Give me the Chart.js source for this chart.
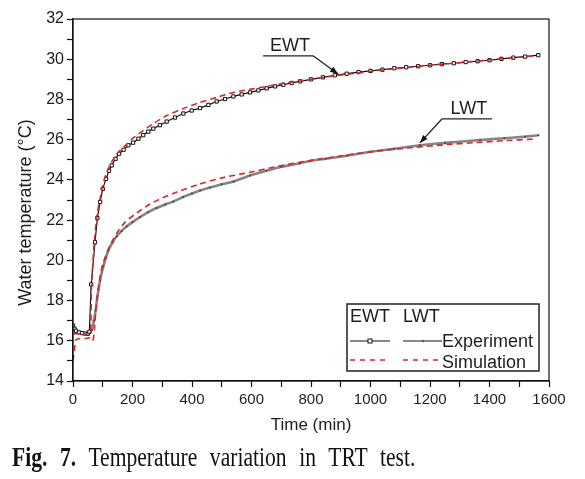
<!DOCTYPE html>
<html><head><meta charset="utf-8">
<script src="https://cdn.jsdelivr.net/npm/chart.js@4.4.1/dist/chart.umd.min.js"></script>
<style>
html,body{margin:0;padding:0;background:#fff;}
#wrap{position:relative;width:585px;height:479px;overflow:hidden;}
#c{position:absolute;left:0;top:0;}
#cap{position:absolute;left:12px;top:444px;font-family:'Liberation Serif','Times New Roman',serif;font-size:27px;line-height:27px;word-spacing:9px;color:#111;white-space:nowrap;transform:scaleX(0.8);transform-origin:0 0;}
</style></head>
<body><div id="wrap"><canvas id="c" width="585" height="479"></canvas><div id="cap"><b>Fig. 7.</b> Temperature variation in TRT test.</div></div>
<script>
// ---- data ----
const ewtExpTime = [0,5,10,20,30,40,50,55,61,74,82,91,100,111,121,130,143,155,170,186,202,220,236,253,270,292,315,343,371,399,427,455,483,511,539,567,595,623,651,679,707,735,763,800,840,880,920,960,1000,1040,1080,1120,1160,1200,1240,1280,1320,1360,1400,1440,1480,1520,1564];
const ewtExpTemp = [16.75,16.6,16.5,16.42,16.38,16.36,16.35,16.45,18.8,20.9,22.1,22.9,23.55,24.05,24.45,24.72,25.05,25.3,25.5,25.72,25.85,26.05,26.22,26.4,26.55,26.72,26.9,27.1,27.3,27.45,27.57,27.73,27.9,28.02,28.15,28.25,28.35,28.45,28.55,28.65,28.73,28.82,28.9,29.0,29.1,29.2,29.28,29.36,29.42,29.48,29.55,29.6,29.65,29.7,29.76,29.8,29.86,29.9,29.95,30.02,30.08,30.13,30.2];

const ewtSimTime = [0,20,40,58,62,70,80,90,100,110,120,130,145,160,175,200,236,270,315,371,427,483,539,595,651,707,763,820,880,950,1030,1100,1200,1300,1400,1480,1560];
const ewtSimTemp = [16.35,16.35,16.35,16.4,18.6,20.6,22.2,23.0,23.7,24.25,24.6,24.9,25.25,25.5,25.7,26.05,26.45,26.8,27.2,27.55,27.85,28.1,28.35,28.5,28.65,28.8,28.92,29.05,29.18,29.3,29.45,29.55,29.7,29.83,29.97,30.07,30.18];

const lwtExpTime = [0,5,10,20,30,40,50,58,63,70,76,82,91,102,110,119,133,147,163,180,200,225,253,281,310,337,370,400,427,460,500,540,595,650,700,763,800,850,920,1000,1080,1166,1250,1368,1450,1520,1564];
const lwtExpTemp = [16.7,16.58,16.5,16.42,16.38,16.36,16.35,16.4,16.55,17.0,17.5,18.2,19.0,19.7,20.1,20.5,20.9,21.2,21.45,21.68,21.9,22.15,22.4,22.6,22.78,22.92,23.15,23.32,23.47,23.62,23.78,23.92,24.22,24.45,24.65,24.83,24.95,25.05,25.2,25.4,25.55,25.72,25.84,25.98,26.07,26.15,26.22];

const lwtSimTime = [0,5,10,20,40,55,60,67,72,80,91,100,113,130,147,175,214,259,300,350,427,500,595,680,763,850,950,1050,1150,1250,1350,1450,1547];
const lwtSimTemp = [15.0,15.6,16.05,16.1,16.1,16.15,16.1,16.0,16.6,18.0,19.2,19.8,20.35,20.9,21.35,21.9,22.35,22.8,23.1,23.4,23.8,24.1,24.38,24.65,24.88,25.08,25.3,25.48,25.62,25.75,25.85,25.95,26.03];

const xTickValues = [0,100,200,300,400,500,600,700,800,900,1000,1100,1200,1300,1400,1500,1600];
const xTickLabels = ['0','','200','','400','','600','','800','','1000','','1200','','1400','','1600'];
const yTickValues = [14,15,16,17,18,19,20,21,22,23,24,25,26,27,28,29,30,31,32];
const yTickLabels = ['14','','16','','18','','20','','22','','24','','26','','28','','30','','32'];

const calloutNames = ['EWT','LWT'];
const calloutTip = [[891,29.27],[1166,25.84]];
const calloutShelf = [[639,807,30.17],[1240,1408,27.03]];

const legendCols = ['EWT','LWT'];
const legendRows = ['Experiment','Simulation'];

// ---- chart ----
const F = '"Liberation Sans", Arial, sans-serif';
const TXT = '#1c1c24';
const pts = (t, v) => t.map((x, i) => ({x: x, y: v[i]}));
const RED = '#d8262a';

const decor = {
  id: 'decor',
  afterDatasetsDraw(chart) {
    const {ctx, chartArea: a, scales: {x, y}} = chart;
    ctx.save();
    ctx.strokeStyle = '#111'; ctx.lineWidth = 1.2;
    ctx.strokeRect(a.left, a.top, a.right - a.left, a.bottom - a.top);
    calloutNames.forEach((name, i) => {
      const [t1, t2, T] = calloutShelf[i];
      const x1 = x.getPixelForValue(t1), x2 = x.getPixelForValue(t2), yy = y.getPixelForValue(T);
      const tx = x.getPixelForValue(calloutTip[i][0]), ty = y.getPixelForValue(calloutTip[i][1]);
      const sx = Math.abs(tx - x1) < Math.abs(tx - x2) ? x1 : x2;
      ctx.strokeStyle = '#222'; ctx.lineWidth = 1.3;
      ctx.beginPath(); ctx.moveTo(x1, yy); ctx.lineTo(x2, yy); ctx.stroke();
      ctx.beginPath(); ctx.moveTo(sx, yy); ctx.lineTo(tx, ty); ctx.stroke();
      const ang = Math.atan2(ty - yy, tx - sx);
      ctx.fillStyle = '#111';
      ctx.beginPath();
      ctx.moveTo(tx, ty);
      ctx.lineTo(tx - 8 * Math.cos(ang) + 3 * Math.sin(ang), ty - 8 * Math.sin(ang) - 3 * Math.cos(ang));
      ctx.lineTo(tx - 8 * Math.cos(ang) - 3 * Math.sin(ang), ty - 8 * Math.sin(ang) + 3 * Math.cos(ang));
      ctx.closePath(); ctx.fill();
      ctx.font = '18px ' + F; ctx.fillStyle = TXT; ctx.textAlign = 'center'; ctx.textBaseline = 'alphabetic';
      ctx.fillText(name, (x1 + x2) / 2 + 2, yy - 5);
    });
    const l = a.right - 202, t = a.bottom - 77, r = a.right - 10, b = a.bottom - 10;
    ctx.fillStyle = '#fff'; ctx.fillRect(l, t, r - l, b - t);
    ctx.strokeStyle = '#222'; ctx.lineWidth = 1.5; ctx.strokeRect(l, t, r - l, b - t);
    ctx.font = '18px ' + F; ctx.fillStyle = TXT; ctx.textAlign = 'left'; ctx.textBaseline = 'alphabetic';
    ctx.fillText(legendCols[0], l + 3, t + 18);
    ctx.fillText(legendCols[1], l + 56, t + 18);
    ctx.fillText(legendRows[0], l + 95, t + 43);
    ctx.fillText(legendRows[1], l + 95, t + 64);
    const r2 = t + 37, r3 = t + 56;
    ctx.strokeStyle = '#111'; ctx.lineWidth = 1;
    ctx.beginPath(); ctx.moveTo(l + 3, r2); ctx.lineTo(l + 43, r2); ctx.moveTo(l + 56, r2); ctx.lineTo(l + 95, r2); ctx.stroke();
    ctx.fillStyle = '#fff'; ctx.fillRect(l + 21, r2 - 2, 4, 4); ctx.strokeRect(l + 21, r2 - 2, 4, 4);
    ctx.fillStyle = '#555'; ctx.beginPath(); ctx.arc(l + 76, r2, 1.2, 0, Math.PI * 2); ctx.fill();
    ctx.strokeStyle = RED; ctx.lineWidth = 1.3; ctx.setLineDash([5, 5]);
    ctx.beginPath(); ctx.moveTo(l + 3, r3); ctx.lineTo(l + 43, r3); ctx.moveTo(l + 56, r3); ctx.lineTo(l + 95, r3); ctx.stroke();
    ctx.restore();
  }
};

new Chart(document.getElementById('c'), {
  type: 'line',
  data: {
    datasets: [
      {data: pts(ewtSimTime, ewtSimTemp), borderColor: RED, borderWidth: 1.6, borderDash: [6, 4], pointRadius: 0, tension: 0.2},
      {data: pts(lwtSimTime, lwtSimTemp), borderColor: RED, borderWidth: 1.6, borderDash: [6, 4], pointRadius: 0, tension: 0.2},
      {data: pts(ewtExpTime, ewtExpTemp), borderColor: '#111', borderWidth: 1.2, pointStyle: 'rect', pointRadius: 2.3,
        pointBackgroundColor: '#fff', pointBorderColor: '#111', pointBorderWidth: 1, tension: 0},
      {data: pts(lwtExpTime, lwtExpTemp), borderColor: '#858585', borderWidth: 2.6, pointStyle: 'circle', pointRadius: 1,
        pointBackgroundColor: '#444', pointBorderWidth: 0, tension: 0.1}
    ]
  },
  options: {
    responsive: false, animation: false, devicePixelRatio: 1,
    layout: {padding: {left: 0, top: 19, right: 36, bottom: 43}},
    plugins: {legend: {display: false}, tooltip: {enabled: false}},
    scales: {
      x: {
        type: 'linear', min: 0, max: 1600,
        afterBuildTicks(s) { s.ticks = xTickValues.map(v => ({value: v})); },
        afterFit(s) { s.height = 55; },
        ticks: {autoSkip: false, maxRotation: 0, minRotation: 0, padding: 4, color: TXT, font: {family: F, size: 15},
          callback: (v) => { const i = xTickValues.indexOf(v); return i >= 0 ? xTickLabels[i] : ''; }},
        grid: {drawOnChartArea: false, drawTicks: true, tickLength: 6, tickColor: '#111', tickWidth: 1.2},
        border: {display: true, color: '#111', width: 1.2},
        title: {display: true, text: 'Time (min)', color: TXT, font: {family: F, size: 17}, padding: {top: 0, bottom: 0}}
      },
      y: {
        type: 'linear', min: 14, max: 32,
        afterBuildTicks(s) { s.ticks = yTickValues.map(v => ({value: v})); },
        afterFit(s) { s.width = 73; },
        ticks: {autoSkip: false, padding: 3, color: TXT, font: {family: F, size: 16},
          callback: (v) => { const i = yTickValues.indexOf(v); return i >= 0 ? yTickLabels[i] : ''; }},
        grid: {drawOnChartArea: false, drawTicks: true, tickLength: 6, tickColor: '#111', tickWidth: 1.2},
        border: {display: true, color: '#111', width: 1.2},
        title: {display: true, text: 'Water temperature (°C)     ', color: TXT, font: {family: F, size: 18}, padding: {top: 15, bottom: 0}}
      }
    }
  },
  plugins: [decor]
});
</script>
</body></html>
